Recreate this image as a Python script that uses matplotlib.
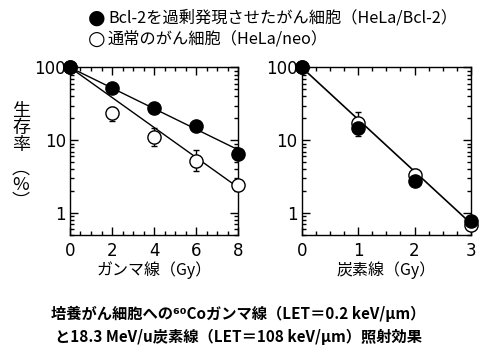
import matplotlib
matplotlib.use("Agg")
from matplotlib import pyplot as plt
from matplotlib.ticker import MultipleLocator, LogLocator, NullFormatter, FixedLocator, FixedFormatter

plt.rcParams['font.family'] = ['Noto Sans CJK JP', 'DejaVu Sans']

# gamma rays (Gy)
gamma_dose = [0, 2, 4, 6, 8]
gamma_bcl2 = [100, 52, 28, 15.7, 6.5]
gamma_neo = [100, 24, 11.2, 5.25, 2.4]
gamma_neo_lo = [100, 18.5, 8.4, 3.75, 2.4]
gamma_neo_hi = [100, 29, 14.6, 7.3, 2.4]
gamma_fit_x = [0, 8]
gamma_fit_bcl2 = [100, 7.4]
gamma_fit_neo = [100, 2.25]

# carbon beam (Gy)
carbon_dose = [0, 1, 2, 3]
carbon_bcl2 = [100, 14.6, 2.8, 0.77]
carbon_bcl2_lo = [100, 11.5, 2.5, 0.77]
carbon_bcl2_hi = [100, 14.6, 2.8, 0.77]
carbon_neo = [100, 17.4, 3.35, 0.69]
carbon_neo_lo = [100, 17.4, 3.35, 0.69]
carbon_neo_hi = [100, 24.6, 4.0, 0.69]
carbon_fit_x = [0, 3]
carbon_fit = [100, 0.72]

ytick_vals = [1, 10, 100]
ytick_labels = ['1', '10', '100']

fig = plt.figure(figsize=(4.86, 3.55), dpi=100)
ax1 = fig.add_axes([0.144, 0.338, 0.346, 0.472])
ax2 = fig.add_axes([0.621, 0.338, 0.348, 0.472])


def errs(vals, lo, hi):
    return [[v - l for v, l in zip(vals, lo)], [h - v for v, h in zip(vals, hi)]]


def style_axis(ax, xmax, major, minor):
    ax.set_yscale('log')
    ax.set_ylim(0.5, 100)
    ax.set_xlim(0, xmax)
    ax.yaxis.set_major_locator(FixedLocator(ytick_vals))
    ax.yaxis.set_major_formatter(FixedFormatter(ytick_labels))
    ax.yaxis.set_minor_locator(LogLocator(base=10, subs=range(2, 10)))
    ax.yaxis.set_minor_formatter(NullFormatter())
    ax.xaxis.set_major_locator(MultipleLocator(major))
    ax.xaxis.set_minor_locator(MultipleLocator(minor))
    ax.tick_params(which='both', direction='in', top=True, right=True, width=1.0)
    ax.tick_params(which='major', length=6, labelsize=12)
    ax.tick_params(axis='y', which='major', pad=3)
    ax.tick_params(axis='x', which='major', pad=5)
    ax.tick_params(which='minor', length=3)
    for lab in ax.get_xticklabels() + ax.get_yticklabels():
        lab.set_family('DejaVu Sans')
    for s in ax.spines.values():
        s.set_linewidth(1.0)


open_kw = dict(fmt='o', ms=9.5, mfc='white', mec='black', mew=1.0, color='black',
               ecolor='black', elinewidth=1.0, capsize=2.5, clip_on=False, zorder=4)
fill_kw = dict(fmt='o', ms=9.5, mfc='black', mec='black', mew=1.0, color='black',
               ecolor='black', elinewidth=1.0, capsize=2.5, clip_on=False, zorder=5)

# gamma panel
ax1.plot(gamma_fit_x, gamma_fit_bcl2, color='black', lw=1.0, zorder=3)
ax1.plot(gamma_fit_x, gamma_fit_neo, color='black', lw=1.0, zorder=3)
ax1.errorbar(gamma_dose, gamma_neo, yerr=errs(gamma_neo, gamma_neo_lo, gamma_neo_hi), **open_kw)
ax1.errorbar(gamma_dose, gamma_bcl2, **fill_kw)
style_axis(ax1, 8, 2, 0.5)
ax1.set_xlabel('ガンマ線（Gy）', fontsize=11.5, labelpad=1)

# carbon panel
ax2.plot(carbon_fit_x, carbon_fit, color='black', lw=1.2, zorder=3)
ax2.errorbar(carbon_dose, carbon_neo, yerr=errs(carbon_neo, carbon_neo_lo, carbon_neo_hi), **open_kw)
ax2.errorbar(carbon_dose, carbon_bcl2, yerr=errs(carbon_bcl2, carbon_bcl2_lo, carbon_bcl2_hi), **fill_kw)
style_axis(ax2, 3, 1, 0.25)
ax2.set_xlabel('炭素線（Gy）', fontsize=11.5, labelpad=1)

# stacked vertical y label
fig.text(21 / 486, 1 - 128 / 355, '生\n存\n率', fontsize=13, ha='center', va='center',
         linespacing=0.95)
fig.text(21 / 486, 1 - 185 / 355, '︵\n%\n︶', fontsize=13, ha='center', va='center',
         linespacing=0.9)

# legend
fig.text(96.5 / 486, 1 - 18 / 355, '●', fontsize=14.5, ha='center', va='center',
         family=['DejaVu Sans'])
fig.text(96.5 / 486, 1 - 39 / 355, '○', fontsize=14.5, ha='center', va='center',
         family=['DejaVu Sans'])
fig.text(108 / 486, 1 - 18 / 355, 'Bcl-2を過剰発現させたがん細胞（HeLa/Bcl-2）',
         fontsize=11.7, ha='left', va='center')
fig.text(108 / 486, 1 - 39 / 355, '通常のがん細胞（HeLa/neo）',
         fontsize=11.7, ha='left', va='center')

# caption
fig.text(0.49, 1 - 314 / 355, '培養がん細胞への⁶⁰Coガンマ線（LET＝0.2 keV/μm）',
         fontsize=11, ha='center', va='center', fontweight='bold')
fig.text(0.49, 1 - 337 / 355, 'と18.3 MeV/u炭素線（LET＝108 keV/μm）照射効果',
         fontsize=11, ha='center', va='center', fontweight='bold')

fig.savefig('out.png', dpi=100)
